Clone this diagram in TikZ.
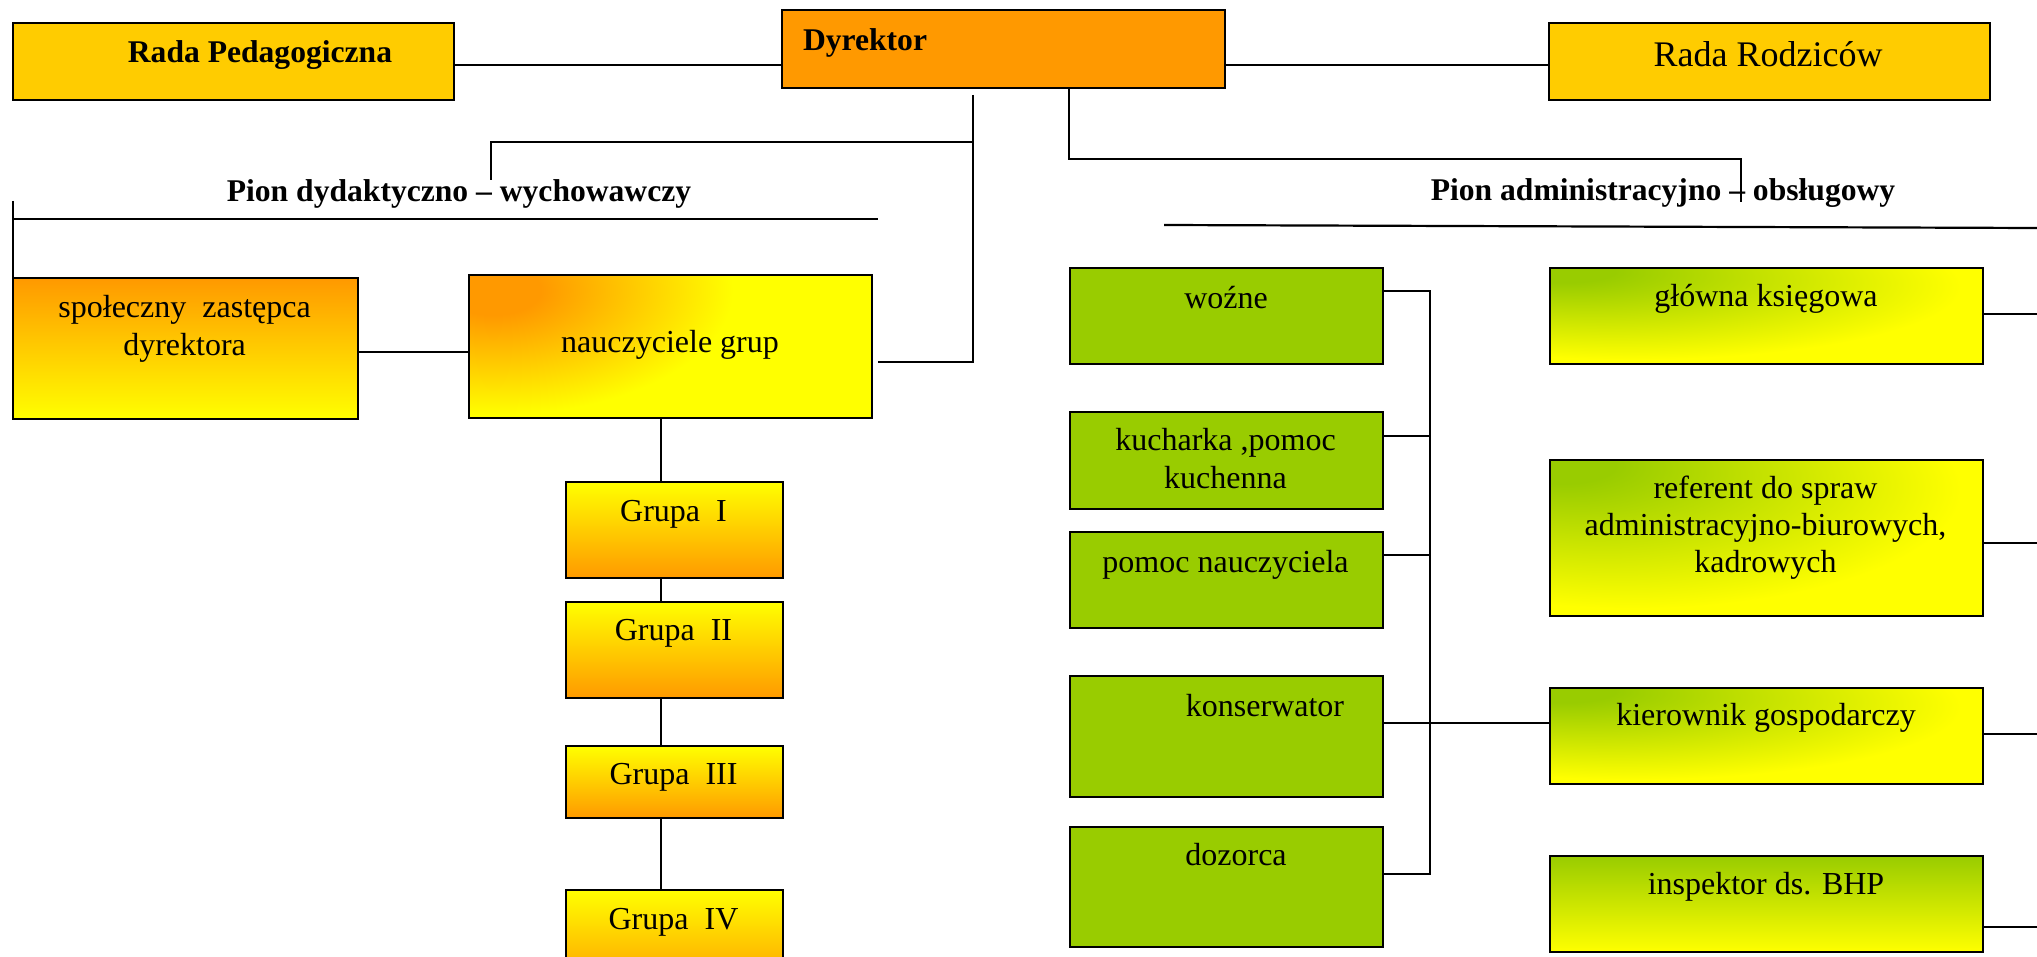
\documentclass[tikz,border=0pt]{standalone}
\usepackage{fontspec}
\setmainfont{Liberation Serif}
\definecolor{cOr}{HTML}{FF9900}
\definecolor{cGold}{HTML}{FFCC00}
\definecolor{cYel}{HTML}{FFFF00}
\definecolor{cGrn}{HTML}{99CC00}
\pgfdeclareradialshading{blobShade}{\pgfpoint{0bp}{0bp}}{color(0bp)=(cOr); color(5bp)=(cOr); color(13bp)=(cOr!60!cYel); color(25bp)=(cYel); color(50bp)=(cYel)}
\pgfdeclareradialshading{grnShade}{\pgfpoint{-25bp}{25bp}}{color(0bp)=(cGrn); color(6bp)=(cGrn); color(38bp)=(cYel); color(100bp)=(cYel)}
\tikzset{
  bx/.style={draw=black, line width=1.2pt, anchor=north west, inner sep=0pt},
  ln/.style={draw=black, line width=1.1pt},
  tx/.style={anchor=base, inner sep=0pt, font=\fontsize{16}{19}\selectfont},
  txb/.style={anchor=base, inner sep=0pt, font=\fontsize{15.8}{19}\selectfont\bfseries},
  grupa/.style={bx, top color=cYel, bottom color=cOr, minimum width=108.5pt},
  green/.style={bx, fill=cGrn, minimum width=156.5pt},
  gy/.style={bx, shading=grnShade, minimum width=216.5pt}
}
\begin{document}
\begin{tikzpicture}[x=0.5pt,y=-0.5pt]
\useasboundingbox (0,0) rectangle (2037,957);

% top row
\node[bx, fill=cGold, minimum width=220.5pt, minimum height=38.5pt] (rp) at (12,22) {};
\node[bx, fill=cOr, minimum width=221.5pt, minimum height=39pt] (dyr) at (781,9) {};
\node[bx, fill=cGold, minimum width=220.5pt, minimum height=38.5pt] (rr) at (1548,22) {};
\node[txb] (trp) at (260,63) {Rada Pedagogiczna};
\node[txb] (tdyr) at (865,51) {Dyrektor};
\node[anchor=base, inner sep=0pt, font=\fontsize{18}{21}\selectfont] (trr) at (1768,67) {Rada Rodziców};

% left branch
\node[bx, top color=cOr, bottom color=cYel, minimum width=172.5pt, minimum height=70.5pt] (spol) at (12,277) {};
\node[bx, draw=none, outer sep=0pt, fill=cYel, minimum width=201.5pt, minimum height=71.5pt] (nau) at (469,275) {};
\begin{scope}
  \clip (nau.north west) rectangle (nau.south east);
  \shade[shading=blobShade] (493,290) ellipse [x radius=240, y radius=125];
\end{scope}
\draw[line width=1.2pt] (nau.north west) rectangle (nau.south east);
\node[tx] (tspol1) at (184.6,317) {społeczny\ \ zastępca};
\node[tx] (tspol2) at (184.6,355) {dyrektora};
\node[tx] (tnau) at (670,352) {nauczyciele grup};

\node[grupa, minimum height=48pt] (g1) at (565,481) {};
\node[grupa, minimum height=48pt] (g2) at (565,601) {};
\node[grupa, minimum height=36pt] (g3) at (565,745) {};
\node[grupa, minimum height=50pt] (g4) at (565,889) {};
\node[tx] (tg1) at (673.5,521) {Grupa\ \ I};
\node[tx] (tg2) at (673.5,640) {Grupa\ \ II};
\node[tx] (tg3) at (673.5,784) {Grupa\ \ III};
\node[tx] (tg4) at (673.5,929) {Grupa\ \ IV};

\node[txb] (tpd) at (459,202) {Pion dydaktyczno – wychowawczy};
\node[txb] (tpa) at (1663,201) {Pion administracyjno – obsługowy};

% green column
\node[green, minimum height=48pt] (woz) at (1069,267) {};
\node[green, minimum height=48.5pt] (kuch) at (1069,411) {};
\node[green, minimum height=48pt] (pom) at (1069,531) {};
\node[green, minimum height=60.5pt] (kons) at (1069,675) {};
\node[green, minimum height=60pt] (doz) at (1069,826) {};
\node[tx] (twoz) at (1226,308) {woźne};
\node[tx] (tkuch1) at (1225.5,450) {kucharka ,pomoc};
\node[tx] (tkuch2) at (1225.5,488) {kuchenna};
\node[tx] (tpom) at (1225.5,572) {pomoc nauczyciela};
\node[tx] (tkons) at (1265,716) {konserwator};
\node[tx] (tdoz) at (1236,865) {dozorca};

% right column
\node[gy, minimum height=48pt] (glow) at (1549,267) {};
\node[gy, minimum height=78pt] (ref) at (1549,459) {};
\node[gy, minimum height=48pt] (kier) at (1549,687) {};
\node[bx, top color=cGrn, bottom color=cYel, minimum width=216.5pt, minimum height=48pt] (insp) at (1549,855) {};
\node[tx] (tglow) at (1766,306) {główna księgowa};
\node[tx] (tref1) at (1765.5,498) {referent do spraw};
\node[tx] (tref2) at (1765.5,535) {administracyjno-biurowych,};
\node[tx] (tref3) at (1765.5,572) {kadrowych};
\node[tx] (tkier) at (1766,725) {kierownik gospodarczy};
\node[tx] (tinsp) at (1766,894) {inspektor ds. BHP};

% connectors top
\coordinate (hTop) at (0,65);
\draw[ln] (rp.east |- hTop) -- (dyr.west |- hTop);
\draw[ln] (dyr.east |- hTop) -- (rr.west |- hTop);

% administrative branch
\coordinate (aJ) at (1069,159);
\coordinate (aEnd) at (1741,202);
\draw[ln] (dyr.south -| aJ) -- (aJ) -| (aEnd);
\coordinate (aL) at (1164,225);
\coordinate (aR) at (2037,228);
\draw[ln] (aL) -- (aR);

% didactic branch
\coordinate (dTop) at (973,95);
\coordinate (dJ) at (973,142);
\coordinate (dBot) at (973,362);
\coordinate (dEnd) at (491,180);
\draw[ln] (dTop) -- (dBot) -- ([xshift=3pt]nau.east |- dBot);
\draw[ln] (dJ) -| (dEnd);
\coordinate (bL) at (13,219);
\coordinate (bR) at (878,219);
\draw[ln] (bL) -- (bR);
\coordinate (vL) at (13,201);
\draw[ln] (vL) -- (vL |- spol.south);
\coordinate (sn) at (0,352);
\draw[ln] (spol.east |- sn) -- (nau.west |- sn);

% groups
\coordinate (gx) at (661,0);
\draw[ln] (nau.south -| gx) -- (g1.north -| gx);
\draw[ln] (g1.south -| gx) -- (g2.north -| gx);
\draw[ln] (g2.south -| gx) -- (g3.north -| gx);
\draw[ln] (g3.south -| gx) -- (g4.north -| gx);

% green bus
\coordinate (w1) at (1430,291);
\coordinate (w2) at (1430,436);
\coordinate (w3) at (1430,555);
\coordinate (w4) at (1430,723);
\coordinate (w5) at (1430,874);
\draw[ln] (woz.east |- w1) -- (w1) -- (w5) -- (doz.east |- w5);
\draw[ln] (kuch.east |- w2) -- (w2);
\draw[ln] (pom.east |- w3) -- (w3);
\draw[ln] (kons.east |- w4) -- (kier.west |- w4);

% right edge stubs
\coordinate (r1) at (2037,314);
\coordinate (r2) at (2037,543);
\coordinate (r3) at (2037,734);
\coordinate (r4) at (2037,927);
\draw[ln] (glow.east |- r1) -- (r1);
\draw[ln] (ref.east |- r2) -- (r2);
\draw[ln] (kier.east |- r3) -- (r3);
\draw[ln] (insp.east |- r4) -- (r4);
\end{tikzpicture}
\end{document}
